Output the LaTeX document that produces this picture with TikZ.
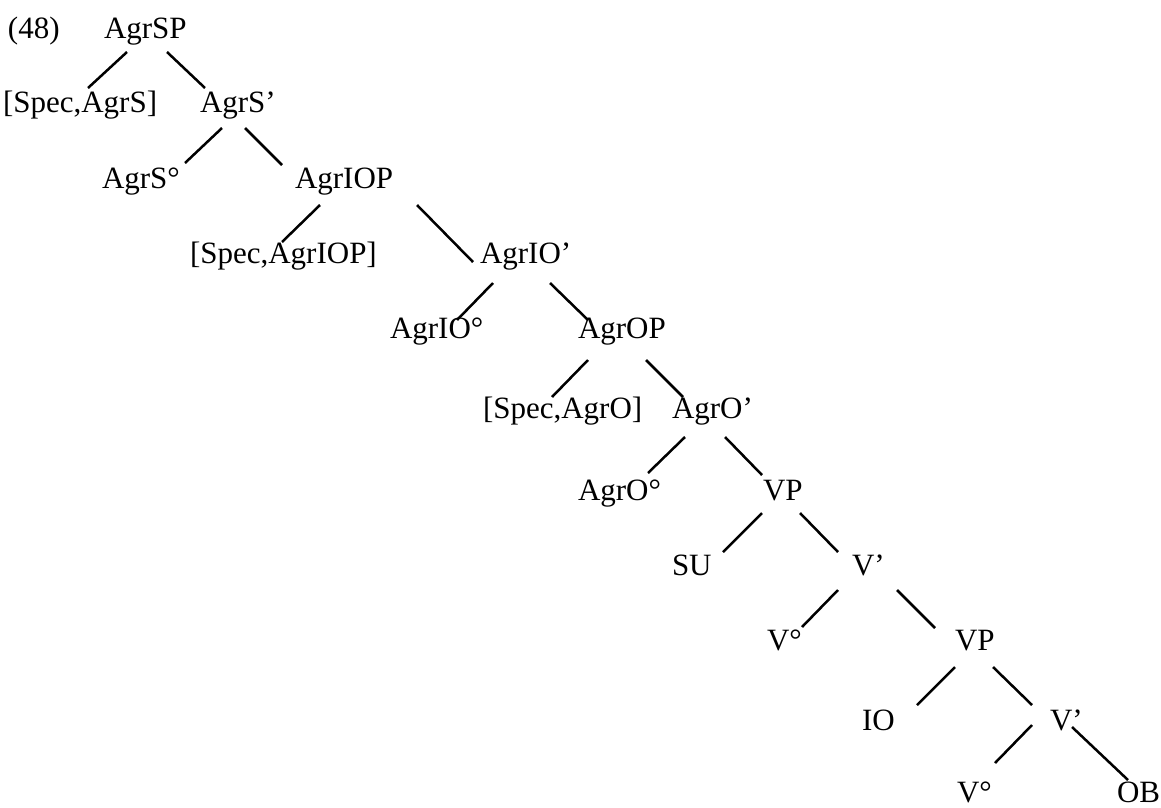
\documentclass[tikz,border=0pt]{standalone}
\usepackage{fontspec}
\setmainfont{Liberation Serif}
\usetikzlibrary{calc}
\tikzset{
  lbl/.style={anchor=base west, inner sep=0pt, outer sep=0pt, font=\fontsize{31}{36}\selectfont},
  br/.style={line width=2.5pt, line cap=butt}
}
\newcommand\tbranch[4]{\draw[br] ($(#1.base west)+(#2)$) -- ($(#3.base west)+(#4)$);}
\begin{document}
\begin{tikzpicture}[x=1pt,y=-1pt]
\useasboundingbox (0,0) rectangle (1161,807);
\node[lbl] (ex) at (8,38) {(48)};
\node[lbl] (AgrSP) at (104,38) {AgrSP};
\node[lbl] (SpecS) at (3,112) {[Spec,AgrS]};
\node[lbl] (AgrSbar) at (200,112) {AgrS’};
\node[lbl] (AgrShead) at (102,188) {AgrS°};
\node[lbl] (AgrIOP) at (295,188) {AgrIOP};
\node[lbl] (SpecIO) at (190,263) {[Spec,AgrIOP]};
\node[lbl] (AgrIObar) at (480,263) {AgrIO’};
\node[lbl] (AgrIOhead) at (390,338) {AgrIO°};
\node[lbl] (AgrOP) at (578,338) {AgrOP};
\node[lbl] (SpecO) at (483,418) {[Spec,AgrO]};
\node[lbl] (AgrObar) at (672,418) {AgrO’};
\node[lbl] (AgrOhead) at (578,500) {AgrO°};
\node[lbl] (VPa) at (763,500) {VP};
\node[lbl] (SU) at (672,575) {SU};
\node[lbl] (Vbara) at (852,575) {V’};
\node[lbl] (Vheada) at (767,650) {V°};
\node[lbl] (VPb) at (955,650) {VP};
\node[lbl] (IO) at (862,730) {IO};
\node[lbl] (Vbarb) at (1050,730) {V’};
\node[lbl] (Vheadb) at (957,802) {V°};
\node[lbl] (OB) at (1117,802) {OB};
\tbranch{AgrSP}{23,14}{SpecS}{85,-24}
\tbranch{AgrSP}{63,14}{AgrSbar}{5,-24}
\tbranch{AgrSbar}{22,16}{AgrShead}{83,-25}
\tbranch{AgrSbar}{45,16}{AgrIOP}{-13,-23}
\tbranch{AgrIOP}{25,17}{SpecIO}{92,-21}
\tbranch{AgrIOP}{122,17}{AgrIObar}{-7,-1}
\tbranch{AgrIObar}{13,20}{AgrIOhead}{67,-18}
\tbranch{AgrIObar}{70,20}{AgrOP}{10,-18}
\tbranch{AgrOP}{10,22}{SpecO}{69,-21}
\tbranch{AgrOP}{68,22}{AgrObar}{11,-21}
\tbranch{AgrObar}{13,19}{AgrOhead}{70,-27}
\tbranch{AgrObar}{53,19}{VPa}{-1,-25}
\tbranch{VPa}{-1,13}{SU}{51,-23}
\tbranch{VPa}{37,13}{Vbara}{-14,-23}
\tbranch{Vbara}{-14,15}{Vheada}{35,-23}
\tbranch{Vbara}{45,15}{VPb}{-20,-22}
\tbranch{VPb}{0,17}{IO}{55,-25}
\tbranch{VPb}{38,17}{Vbarb}{-18,-25}
\tbranch{Vbarb}{-18,-5}{Vheadb}{38,-39}
\tbranch{Vbarb}{22,-3}{OB}{11,-22}
\end{tikzpicture}
\end{document}
